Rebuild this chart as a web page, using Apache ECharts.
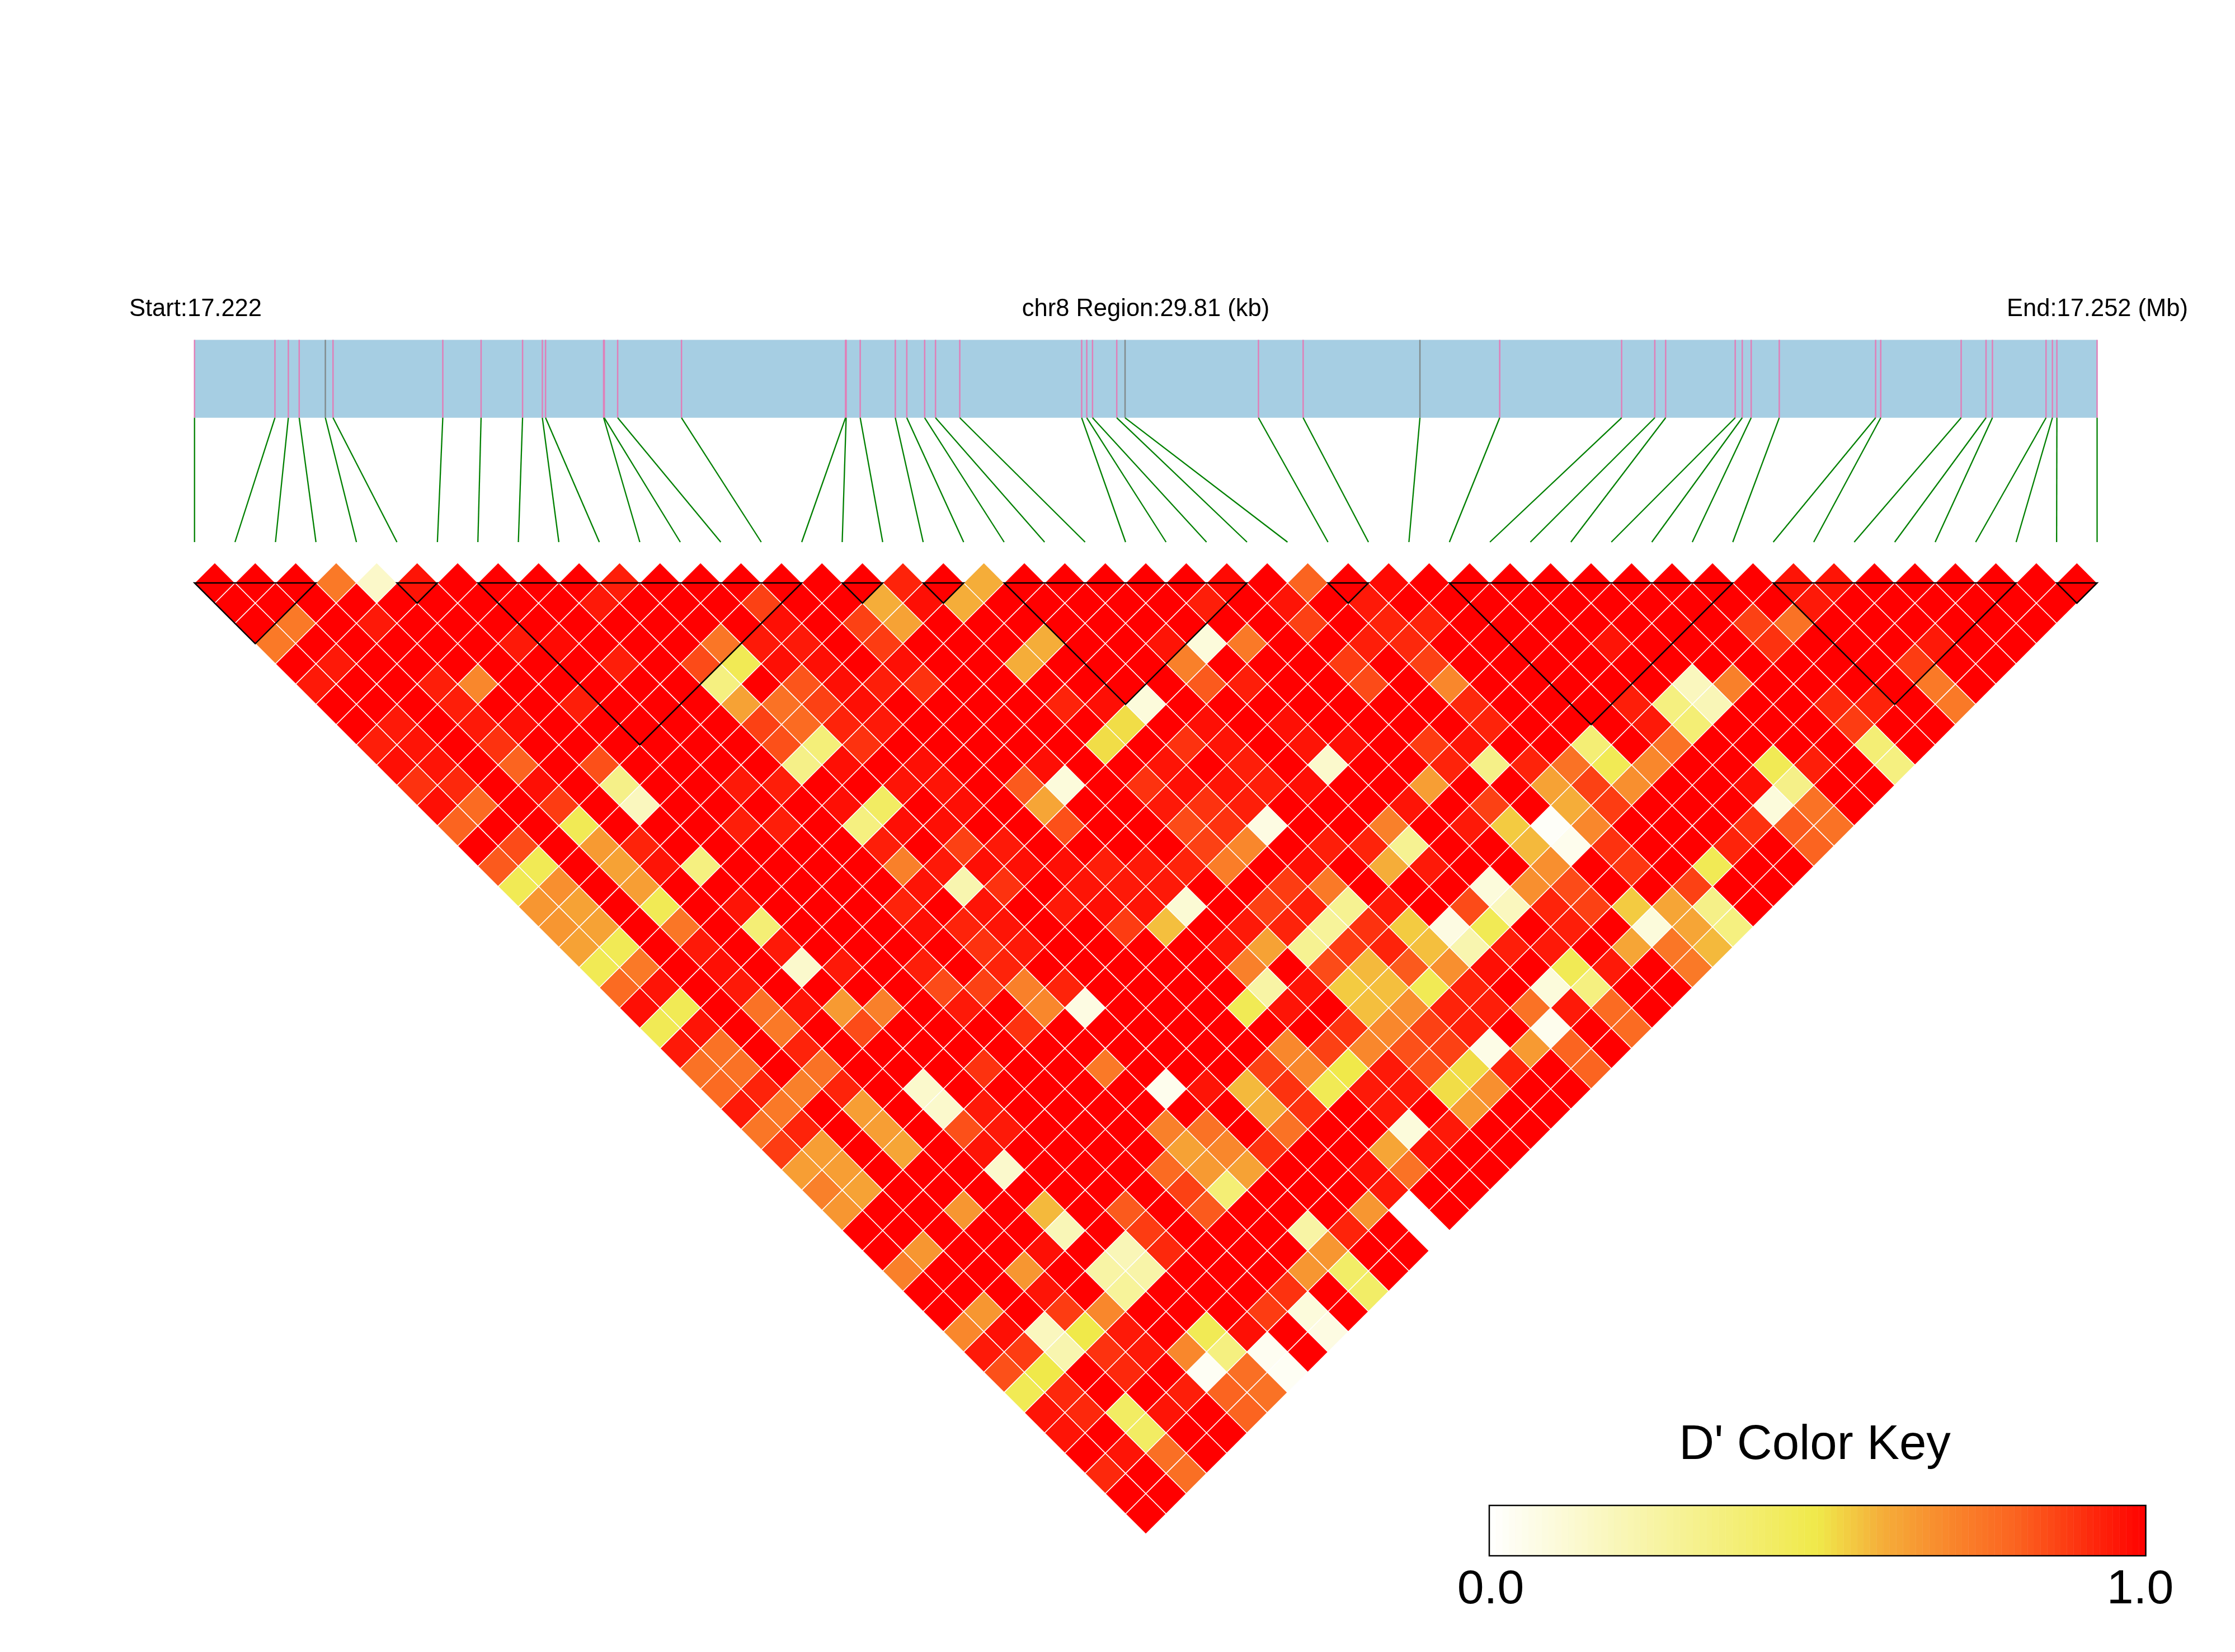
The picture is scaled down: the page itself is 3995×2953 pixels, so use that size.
<!DOCTYPE html>
<html>
<head>
<meta charset="utf-8">
<title>chr8 LD heatmap</title>
<script src="https://cdn.jsdelivr.net/npm/echarts@6/dist/echarts.min.js"></script>
<style>
  html, body { margin: 0; padding: 0; background: #fff; }
  #main { width: 3995px; height: 2953px; }
</style>
</head>
<body>
<div id="main"></div>
<script>
// SNP positions in kb from the region start
const snpKb = [
  0, 1.26, 1.47, 1.64, 2.05, 2.17, 3.89, 4.49, 5.14, 5.45,
  5.50, 6.41, 6.42, 6.63, 7.63, 10.20, 10.21, 10.43, 10.98, 11.16,
  11.44, 11.61, 11.99, 13.90, 13.98, 14.07, 14.45, 14.58, 16.67, 17.37,
  19.20, 20.45, 22.36, 22.88, 23.05, 24.14, 24.25, 24.39, 24.83, 26.34,
  26.42, 27.68, 28.07, 28.17, 29.01, 29.11, 29.18, 29.81
];
const regionKb = 29.81;
// ticks drawn grey on the gene track instead of pink
const greySnps = [4, 27, 30];

// haplotype blocks, first and last SNP index
const blockStart = [0, 5, 7, 16, 18, 20, 28, 31, 39, 46];
const blockEnd = [3, 6, 15, 17, 19, 26, 29, 38, 45, 47];

// D' per pair: ldRows[d][i] is SNP i against SNP i + d + 1
const ldRows = [
  [1,1,1,.74,.15,.96,1,1,1,1, .94,1,1,1,1,1,1,.93,1,.6, 1,1,1,1,1,.98,1,.8,1,.98, 1,1,1,1,1,1,1,1,1,.96, .96,1,1,1,1,1,1],
  [1,1,1,1,1,1,1,1,1,.95, 1,1,1,.87,1,1,.6,.97,.6,1, 1,1,1,1,.94,1,.96,1,.95,1, 1,1,1,1,1,1,1,1,1,.95, 1,1,1,1,1,1],
  [1,.74,1,.95,1,1,1,1,1,1, 1,1,1,.97,1,.87,.63,1,1,1, 1,1,1,1,1,1,.87,1,.93,.93, 1,1,1,1,1,1,1,.87,.76,1, 1,1,1,1,1],
  [.74,1,1,1,1,1,.95,.98,1,1, 1,.75,.95,.95,1,.88,1,1,1,.6, 1,1,.96,.1,.74,1,1,.94,.92,1, 1,1,1,.96,1,1,1,.9,1,1, 1,.95,1,1],
  [1,.95,1,1,1,1,1,1,.94,1, .85,.47,.97,.97,1,.97,1,1,.6,1, 1,1,.72,1,1,1,.88,1,.87,1, 1,1,1,1,1,1,1,1,1,1, .88,1,1],
  [.95,1,1,.94,.7,1,1,1,1,1, .35,1,.83,.97,.94,.9,1,1,1,1, 1,1,.82,.94,1,1,.85,1,.7,1, 1,1,1,1,.18,.72,1,1,1,1, .74,1],
  [1,1,1,.94,1,1,.94,1,1,1, .63,.76,.87,.97,1,1,1,1,.93,.97, .1,1,1,1,1,1,1,1,.92,1, 1,1,.94,.35,.2,1,1,.92,.93,1, .74],
  [1,.95,1,.95,.97,1,1,1,1,1, .87,.78,.93,.95,1,1,1,1,1,.52, 1,.97,1,.97,1,1,1,1,.93,1, 1,1,.95,.38,1,1,1,.88,1,1],
  [.94,.96,1,.9,1,1,1,1,1,1, .84,.37,.9,1,1,1,1,1,.52,1, .9,.96,1,.96,.97,1,.88,.96,1,1, .38,1,.76,1,1,1,1,.38,1],
  [.97,.96,1,.8,1,.84,1,1,1,1, .33,.97,1,.97,1,1,.97,1,1,.96, 1,.94,1,.14,1,1,.93,.33,.93,.76, .47,.7,1,1,.47,.94,1,.35],
  [.9,.92,1,.97,1,.33,1,1,.95,.94, 1,1,.96,.96,1,.82,.1,1,.9,.97, .96,.94,.97,1,1,.64,1,1,.63,.87, .68,1,1,.97,.33,1,1],
  [.97,.78,1,.88,1,.18,1,1,1,1, .97,.43,1,.97,1,.62,1,1,.95,.9, .94,1,1,1,.96,1,.87,1,.6,.88, 1,1,1,.1,.76,1],
  [.8,1,1,.47,1,1,1,.94,.94,1, .35,.97,.97,1,1,.84,1,1,.85,.9, .08,1,1,.72,1,.95,.55,.02,.7,1, 1,1,.9,.82,.76],
  [1,.85,1,.65,.93,1,1,1,1,1, .94,1,.87,.95,1,1,1,1,.87,.7, 1,.94,.93,.3,1,1,.58,.05,.9,1, 1,.93,1,.8],
  [.82,.47,1,.63,.96,.35,1,1,1,1, .72,.95,.97,.97,.97,.94,.95,.93,.73,1, .97,1,.6,.95,1,1,.68,1,.89,1, .47,1,1],
  [.47,.68,1,.64,1,1,1,1,1,1, .96,.22,.9,1,.96,.95,.95,1,1,.88, .74,1,1,1,.1,.68,.85,1,1,.87, 1,1],
  [.66,.63,1,.47,1,.96,1,1,1,.93, 1,.96,1,.95,.97,.96,.12,1,.87,.94, .3,.95,1,.85,.18,.93,.87,.55,.62,.33, 1],
  [.66,.63,1,.75,1,.38,1,1,1,.97, .93,.96,1,1,.88,.57,1,.95,.93,.28, .9,.55,.08,.47,1,.94,1,.1,.62,.35],
  [.63,.47,1,.95,1,.95,1,1,1,1, .9,.95,1,1,1,1,.96,.63,.3,.88, .93,.57,.22,.94,.95,1,.62,.75,.58],
  [.47,.74,1,.97,1,.14,.95,1,.94,1, .93,1,1,1,1,1,.72,1,.85,.58, .82,.68,.97,1,.47,.95,1,.74],
  [.78,.96,1,.95,1,1,1,1,.85,.87, .72,.93,1,1,1,1,.25,.96,.55,.57, .47,.93,1,.1,.35,1,1],
  [.97,.47,1,.76,.96,.65,.72,1,.95,1, .7,.08,1,1,1,.47,.96,1,.57,.68, .93,.94,.76,.95,.78,1],
  [.47,.96,1,.74,1,.85,1,1,1,.9, 1,1,1,1,1,1,1,.9,.7,.87, .94,1,.05,1,.78],
  [.95,.76,1,.93,1,1,1,1,1,1, 1,1,1,1,1,.7,.87,.7,.84,.87, .07,.65,.8,1],
  [.76,.76,1,.76,1,1,1,.9,1,1, .74,1,1,1,.87,.7,.5,.95,.84,.52, .93,1,.8],
  [.78,.93,.72,.93,1,.14,1,1,1,1, 1,.05,.96,.58,.9,.47,.95,.95,.52,.68, 1,1],
  [.95,.74,1,.64,1,.14,.95,1,1,1, 1,1,1,.6,.9,1,.95,1,.65,1, 1],
  [.75,.93,1,.64,1,.84,.95,1,1,1, .72,.76,1,.76,1,1,.1,.95,1,1],
  [.88,.64,1,.62,1,.96,1,1,1,1, .63,.7,.9,1,1,.62,.96,1,1],
  [.64,.64,1,1,1,.14,1,1,1,.78, .65,.63,1,1,.97,.76,1,1],
  [.72,.63,1,1,1,1,1,1,1,.87, .38,1,1,1,.95,1,1],
  [.66,1,1,.66,1,.58,1,.82,1,.82, 1,1,1,.66,0,1],
  [1,1,1,1,1,.2,1,.88,1,1, 1,.25,.93,1,0],
  [1,.66,1,1,.97,1,.2,.92,1,1, 1,.66,1,1],
  [.72,1,1,.66,1,.25,.24,1,1,1, .66,.42,1],
  [1,1,1,.96,1,.28,1,1,1,.9, 1,.42],
  [1,.66,1,.88,.7,1,1,1,.88,.1, 1],
  [.7,.97,.18,.5,.95,1,.47,.97,1,.08],
  [.95,.88,.22,.9,.95,.7,.35,.04,1],
  [.84,.5,1,.92,1,.03,.77,.03],
  [.47,.92,1,1,.94,.8,.76],
  [.96,.92,.43,.96,1,.8],
  [.96,1,.43,1,1],
  [1,.96,.77,1],
  [.92,1,.77],
  [1,1],
  [1]
];

// colour ramp of the key
const rampStops = [0, .5, .6, .7, .8, .9, 1];
const rampColors = [[255,255,255], [240,233,74], [245,173,57], [249,135,44], [251,100,32], [253,50,15], [255,0,0]];
const keySteps = 100;

function rampColor(value) {
  let n = 1;
  while (n < rampStops.length - 1 && value > rampStops[n]) n++;
  const t = (value - rampStops[n - 1]) / (rampStops[n] - rampStops[n - 1]);
  const a = rampColors[n - 1], b = rampColors[n];
  return "rgb(" + [0, 1, 2].map((c) => Math.round(a[c] + (b[c] - a[c]) * t)).join(",") + ")";
}

// cells of the triangle: centre x, centre y in SNP spacings, then D'
const ldCells = [];
ldRows.forEach((row, d) => {
  row.forEach((value, i) => {
    ldCells.push([i + (d + 1) / 2, d / 2, value]);
  });
});

const keyCells = [];
for (let s = 0; s < keySteps; s++) keyCells.push(s);

function textEl(x, y, text, size, align) {
  return {
    type: "text",
    x: x,
    y: y,
    silent: true,
    style: {
      text: text,
      fill: "#000",
      font: size + 'px "Liberation Sans", Arial, sans-serif',
      align: align,
      verticalAlign: "middle",
    },
  };
}

let myEchart = echarts.init(document.getElementById("main"), null, { renderer: "canvas" });

let option = {
  backgroundColor: "#fff",
  animation: false,
  graphic: {
    elements: [
      textEl(231, 553, "Start:17.222", 43.5, "left"),
      textEl(2048, 553, "chr8 Region:29.81 (kb)", 43.5, "center"),
      textEl(3587, 553, "End:17.252 (Mb)", 43.5, "left"),
      textEl(3244, 2584, "D' Color Key", 87, "center"),
    ],
  },
  grid: [
    { left: 347.7, width: 3400.8, top: 607.5, height: 139.3 },
    { left: 347.7, width: 3400.8, top: 746.8, height: 222.2 },
    { left: 347.7, width: 3400.8, top: 1005.8, height: 1736.6 },
    { left: 2662, width: 1173.5, top: 2691, height: 90 },
  ],
  xAxis: [
    { gridIndex: 0, type: "value", min: 0, max: regionKb, show: false },
    { gridIndex: 1, type: "value", min: 0, max: snpKb.length - 1, show: false },
    { gridIndex: 2, type: "value", min: 0, max: snpKb.length - 1, show: false },
    {
      gridIndex: 3,
      type: "value",
      min: 0,
      max: 1,
      interval: 1,
      axisLine: { show: false },
      axisTick: { show: false },
      splitLine: { show: false },
      axisLabel: {
        margin: 18,
        fontSize: 86,
        color: "#000",
        fontFamily: '"Liberation Sans", Arial, sans-serif',
        formatter: (v) => (v === 0 ? "{lo|0.0}" : "{hi|1.0}"),
        rich: {
          lo: { fontSize: 86, padding: [0, 0, 0, 5] },
          hi: { fontSize: 86, padding: [0, 20, 0, 0] },
        },
      },
    },
  ],
  yAxis: [
    { gridIndex: 0, type: "value", min: 0, max: 1, show: false },
    { gridIndex: 1, type: "value", min: 0, max: 1, show: false },
    { gridIndex: 2, type: "value", min: -0.5, max: 23.5, inverse: true, show: false },
    { gridIndex: 3, type: "value", min: 0, max: 1, show: false },
  ],
  series: [
    // gene track background
    {
      type: "custom",
      xAxisIndex: 0,
      yAxisIndex: 0,
      silent: true,
      data: [[0, regionKb]],
      renderItem: (params, api) => {
        const a = api.coord([api.value(0), 1]);
        const b = api.coord([api.value(1), 0]);
        return {
          type: "rect",
          shape: { x: a[0], y: a[1], width: b[0] - a[0], height: b[1] - a[1] },
          style: { fill: "#a6cee3" },
        };
      },
    },
    // SNP ticks on the track
    {
      type: "custom",
      xAxisIndex: 0,
      yAxisIndex: 0,
      silent: true,
      data: snpKb.map((kb, i) => [kb, i]),
      renderItem: (params, api) => {
        const a = api.coord([api.value(0), 1]);
        const b = api.coord([api.value(0), 0]);
        return {
          type: "line",
          shape: { x1: a[0], y1: a[1], x2: b[0], y2: b[1] },
          style: {
            stroke: greySnps.includes(api.value(1)) ? "#828c8e" : "#e07fb8",
            lineWidth: 2.5,
          },
        };
      },
    },
    // links from track position to evenly spaced SNP slots
    {
      type: "custom",
      xAxisIndex: 1,
      yAxisIndex: 1,
      silent: true,
      data: snpKb.map((kb, i) => [(kb / regionKb) * (snpKb.length - 1), i]),
      renderItem: (params, api) => {
        const a = api.coord([api.value(0), 1]);
        const b = api.coord([api.value(1), 0]);
        return {
          type: "line",
          shape: { x1: a[0], y1: a[1], x2: b[0], y2: b[1] },
          style: { stroke: "#008000", lineWidth: 2.3 },
        };
      },
    },
    // LD triangle
    {
      type: "custom",
      xAxisIndex: 2,
      yAxisIndex: 2,
      silent: true,
      data: ldCells,
      renderItem: (params, api) => {
        const x = api.value(0), y = api.value(1);
        return {
          type: "polygon",
          shape: {
            points: [
              api.coord([x, y - 0.5]),
              api.coord([x + 0.5, y]),
              api.coord([x, y + 0.5]),
              api.coord([x - 0.5, y]),
            ],
          },
          style: { fill: rampColor(api.value(2)), stroke: "#fff", lineWidth: 1.5 },
        };
      },
    },
    // block outlines
    {
      type: "custom",
      xAxisIndex: 2,
      yAxisIndex: 2,
      silent: true,
      z: 5,
      data: blockStart.map((s, n) => [s, blockEnd[n]]),
      renderItem: (params, api) => {
        const s = api.value(0), e = api.value(1);
        return {
          type: "polygon",
          shape: {
            points: [api.coord([s, 0]), api.coord([e, 0]), api.coord([(s + e) / 2, (e - s) / 2])],
          },
          style: { fill: "none", stroke: "#000", lineWidth: 2.5, lineJoin: "miter" },
        };
      },
    },
    // colour key steps
    {
      type: "custom",
      xAxisIndex: 3,
      yAxisIndex: 3,
      silent: true,
      data: keyCells,
      renderItem: (params, api) => {
        const s = api.value(0);
        const a = api.coord([s / keySteps, 1]);
        const b = api.coord([(s + 1) / keySteps, 0]);
        const col = rampColor((s + 0.5) / keySteps);
        return {
          type: "rect",
          shape: { x: a[0], y: a[1], width: b[0] - a[0], height: b[1] - a[1] },
          style: { fill: col, stroke: col, lineWidth: 0.5 },
        };
      },
    },
    // colour key frame
    {
      type: "custom",
      xAxisIndex: 3,
      yAxisIndex: 3,
      silent: true,
      z: 5,
      data: [[0, 1]],
      renderItem: (params, api) => {
        const a = api.coord([api.value(0), 1]);
        const b = api.coord([api.value(1), 0]);
        return {
          type: "rect",
          shape: { x: a[0], y: a[1], width: b[0] - a[0], height: b[1] - a[1] },
          style: { fill: "none", stroke: "#000", lineWidth: 2.5 },
        };
      },
    },
  ],
};
myEchart.setOption(option, true);
</script>
</body>
</html>
